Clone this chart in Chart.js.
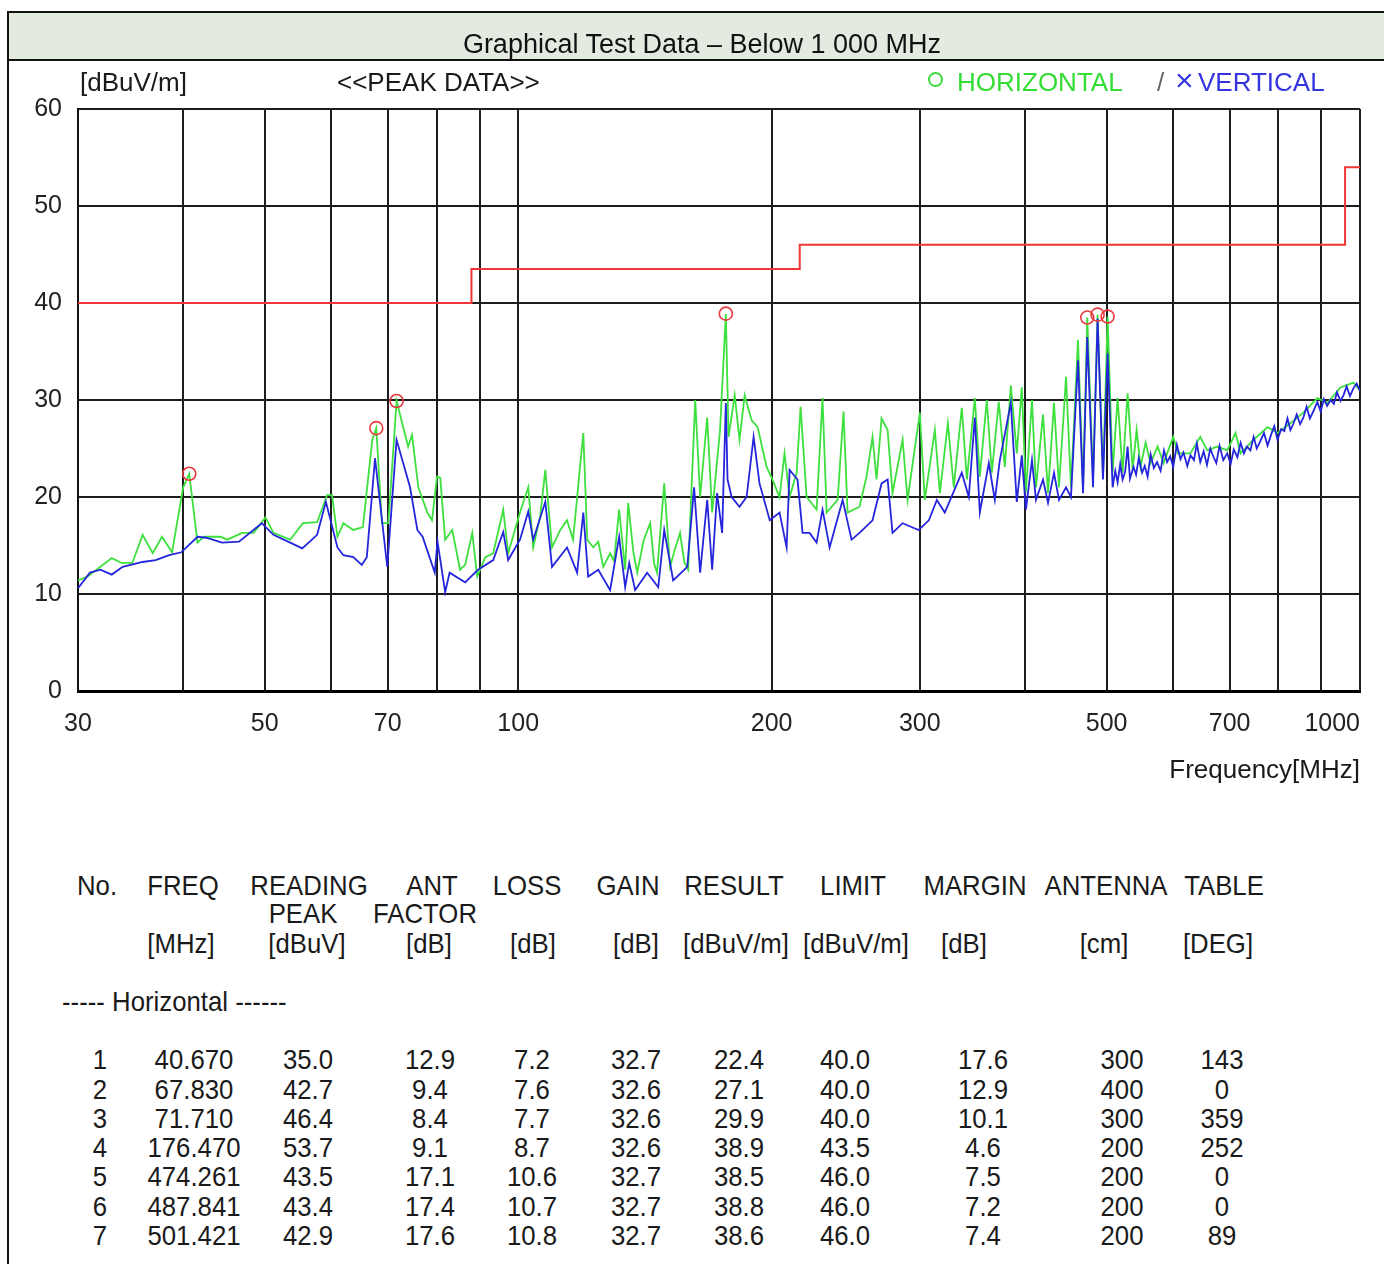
<!DOCTYPE html>
<html>
<head>
<meta charset="utf-8">
<script src="https://cdn.jsdelivr.net/npm/chart.js@4.4.1/dist/chart.umd.min.js"></script>
<style>
html,body{margin:0;padding:0;background:#fff;width:1384px;height:1264px;overflow:hidden;font-family:"Liberation Sans",Arial,sans-serif;color:#1a1a1a}
#frame{position:absolute;left:7px;top:11px;width:1420px;height:1300px;border-left:2px solid #111;border-top:2px solid #111;box-sizing:border-box}
#header{position:absolute;left:9px;top:13px;width:1400px;height:46px;background:#e3ebe1;border-bottom:2px solid #111}
.t{position:absolute;white-space:nowrap;line-height:1}
#c{position:absolute;left:0;top:0}
</style>
</head>
<body>
<div id="frame"></div>
<div id="header"></div>
<canvas id="c" width="1384" height="800"></canvas>
<script>
// ---------------- DATA ----------------
// Horizontal polarisation trace (green): frequency [MHz] and level [dBuV/m]
const hFreq = [
 30.0, 30.8, 32.9, 33.8, 34.8, 35.8, 36.8, 37.75, 38.8, 40.0,
 40.67, 41.6, 42.3, 44.3, 45.1, 47.0, 48.5, 50.1, 51.2, 53.6,
 55.5, 57.7, 59.3, 60.1, 61.0, 62.0, 63.7, 65.4, 67.1, 67.83,
 68.9, 70.1, 71.71, 74.0, 74.8, 76.1, 78.0, 79.0, 80.1, 80.8,
 81.9, 83.5, 85.3, 86.5, 88.2, 89.4, 91.4, 93.4, 96.0, 97.3,
 100.5, 102.8, 104.2, 106.2, 107.7, 109.7, 112.2, 114.3, 116.2, 119.5,
 120.8, 122.8, 124.5, 126.2, 128.6, 130.0, 131.8, 134.0, 135.1, 137.0,
 138.5, 141.0, 143.5, 145.0, 146.2, 149.1, 151.5, 153.5, 155.7, 157.5,
 159.2, 162.3, 164.5, 167.7, 170.0, 173.7, 176.47, 177.8, 180.8, 183.2,
 185.8, 189.4, 192.5, 197.3, 200.5, 204.4, 207.2, 210.1, 214.2, 216.5,
 220.1, 226.2, 229.9, 232.5, 239.6, 243.5, 246.2, 254.4, 259.3, 263.6,
 266.5, 270.2, 274.7, 278.4, 286.2, 290.1, 300.0, 304.1, 312.6, 316.9,
 323.9, 329.2, 336.5, 341.2, 348.7, 353.5, 360.3, 365.3, 372.3, 378.5,
 384.8, 391.1, 396.5, 401.0, 407.7, 412.2, 420.2, 426.0, 433.0, 439.0,
 447.5, 453.6, 462.4, 468.8, 474.261, 481.8, 487.841, 495.1, 501.421, 508.3,
 515.3, 522.4, 529.6, 536.9, 542.8, 548.7, 556.3, 564.0, 574.9, 584.3,
 600.0, 607.8, 628.6, 646.0, 658.4, 676.7, 695.5, 711.5, 721.4, 747.5,
 776.6, 798, 826.7, 856.6, 890.0, 914.9, 948, 982, 1000
];
const hLevel = [
 11.4, 11.8, 13.7, 13.2, 13.2, 16.1, 14.2, 15.9, 14.3, 21.0,
 22.4, 15.3, 15.9, 15.9, 15.6, 16.3, 16.3, 17.9, 16.3, 15.6,
 17.3, 17.4, 20.2, 20.2, 15.9, 17.3, 16.6, 16.9, 25.9, 27.1,
 17.3, 17.3, 29.9, 25.2, 26.4, 21.0, 18.4, 17.6, 22.1, 22.0,
 15.6, 16.6, 12.5, 13.0, 16.3, 11.8, 13.8, 14.2, 18.7, 14.2,
 18.4, 21.0, 14.8, 18.0, 22.8, 14.8, 16.6, 17.6, 15.6, 26.6,
 15.6, 14.8, 15.4, 12.8, 14.2, 13.4, 18.7, 12.5, 19.4, 14.4,
 12.2, 15.6, 17.3, 13.2, 12.2, 21.4, 12.8, 14.6, 16.3, 13.3,
 12.5, 30.0, 20.0, 28.2, 18.4, 26.9, 38.9, 26.2, 30.5, 25.9,
 30.5, 27.9, 27.2, 23.1, 21.8, 20.0, 24.5, 20.0, 22.5, 29.3,
 20.0, 18.7, 30.2, 18.4, 19.7, 28.8, 18.4, 19.0, 22.1, 26.2,
 21.8, 28.1, 26.9, 20.4, 25.9, 19.7, 28.7, 19.7, 26.9, 20.4,
 27.6, 21.0, 29.2, 21.8, 30.2, 22.1, 30.0, 22.5, 29.8, 23.1,
 31.5, 24.5, 31.3, 20.5, 30.0, 21.0, 28.5, 20.4, 29.7, 21.0,
 32.4, 21.0, 36.2, 21.0, 38.5, 21.8, 38.8, 22.1, 38.6, 22.5,
 30.2, 22.5, 30.7, 22.8, 26.9, 23.1, 25.6, 23.5, 25.2, 23.5,
 26.2, 24.5, 24.5, 26.2, 24.8, 25.2, 24.8, 26.6, 24.5, 25.9,
 27.2, 26.6, 27.6, 28.7, 30.2, 29.7, 31.3, 31.8, 31.0
];
// Vertical polarisation trace (blue)
const vFreq = [
 30.0, 31.0, 31.9, 32.9, 33.9, 35.8, 37.1, 38.5, 39.8, 41.6,
 42.6, 44.5, 46.6, 49.6, 51.2, 53.6, 55.4, 57.7, 59.1, 61.0,
 62.0, 63.7, 65.2, 66.1, 67.6, 69.9, 71.7, 74.4, 75.9, 77.0,
 79.6, 80.2, 81.9, 82.9, 86.5, 89.6, 93.4, 96.0, 97.3, 100.5,
 102.8, 104.2, 107.7, 109.7, 114.3, 117.5, 119.5, 121.1, 124.5, 128.6,
 131.8, 134.0, 135.5, 137.7, 142.3, 146.7, 149.1, 152.8, 158.8, 161.8,
 164.5, 167.7, 170.0, 172.3, 174.7, 176.47, 177.3, 179.3, 183.2, 186.8,
 190.4, 193.5, 199.0, 204.4, 208.4, 210.1, 214.7, 217.7, 221.9, 226.2,
 229.9, 234.4, 242.9, 248.9, 254.4, 263.6, 270.2, 274.7, 278.4, 286.2,
 299.0, 307.5, 314.3, 321.2, 336.5, 343.0, 348.7, 353.5, 362.3, 368.3,
 373.4, 384.8, 391.1, 396.5, 401.0, 407.7, 412.2, 420.2, 426.0, 433.0,
 439.0, 447.5, 453.6, 462.4, 468.8, 474.261, 481.8, 487.841, 495.1, 501.421,
 508.3, 512, 515.3, 519, 522.4, 526, 529.6, 533, 538.3, 542,
 546, 551, 555, 559.4, 564, 569, 574, 579.6, 585, 590,
 595, 600, 606, 612, 617, 623.5, 629, 635, 640, 646,
 652, 658, 664, 669.3, 675, 681, 688, 695.5, 702, 708,
 715, 721.4, 728, 734, 741, 747.5, 754, 761, 769, 776.6,
 784, 791, 798, 806, 813, 820, 826.7, 834, 841, 849,
 856.6, 864, 872, 881, 890, 898, 906, 914, 922.8, 931,
 939, 948, 956, 964, 973, 982, 991, 1000
];
const vLevel = [
 10.6, 12.2, 12.5, 12.0, 12.8, 13.3, 13.5, 14.0, 14.3, 15.9,
 15.8, 15.3, 15.4, 17.3, 16.1, 15.3, 14.7, 16.1, 19.5, 14.8,
 14.0, 13.8, 13.0, 13.8, 24.0, 12.8, 25.9, 21.0, 16.6, 15.9,
 12.2, 15.4, 10.2, 12.2, 11.2, 12.5, 13.5, 16.4, 13.5, 15.6,
 18.5, 15.6, 19.5, 12.8, 14.8, 12.2, 18.4, 11.8, 12.5, 10.4,
 15.9, 10.7, 13.2, 10.4, 12.2, 10.7, 16.6, 11.4, 12.8, 21.0,
 12.2, 19.7, 12.5, 20.4, 16.3, 29.7, 21.8, 20.0, 19.0, 20.0,
 26.2, 21.4, 17.6, 18.4, 14.8, 22.8, 21.8, 16.3, 16.3, 15.3,
 18.7, 14.8, 19.7, 15.6, 16.3, 17.6, 21.4, 21.8, 16.3, 17.3,
 16.6, 17.6, 19.7, 18.4, 22.5, 20.0, 28.2, 18.4, 23.5, 19.7,
 23.8, 29.7, 19.5, 24.3, 18.7, 23.8, 19.7, 21.8, 19.4, 22.5,
 19.7, 21.0, 20.0, 34.1, 20.4, 36.5, 21.0, 38.4, 21.8, 34.8,
 21.0, 22.7, 21.5, 23.4, 21.8, 22.6, 25.2, 21.9, 23.1, 22.3,
 24.0, 22.5, 23.2, 22.1, 24.4, 23.0, 23.6, 22.7, 24.8, 23.6,
 24.2, 23.1, 25.4, 23.9, 24.6, 23.2, 24.3, 23.8, 25.5, 23.6,
 24.7, 23.3, 25.0, 24.2, 23.5, 25.3, 23.8, 24.5, 23.4, 24.9,
 24.1, 25.6, 24.5, 25.2, 24.8, 26.2, 25.0, 25.7, 26.6, 25.3,
 26.4, 27.3, 25.9, 27.0, 26.8, 28.1, 26.9, 27.6, 28.5, 27.5,
 28.2, 29.3, 28.1, 28.9, 29.8, 28.8, 30.1, 29.4, 30.0, 29.6,
 30.8, 29.9, 30.5, 31.4, 30.4, 31.2, 31.7, 30.9
];
// Limit line (step)
const limitFreq = [30, 88, 88, 216, 216, 960, 960, 1000];
const limitLevel = [40, 40, 43.5, 43.5, 46, 46, 54, 54];
// Axis ticks
const gridFreqs = [30, 40, 50, 60, 70, 80, 90, 100, 200, 300, 400, 500, 600, 700, 800, 900, 1000];
const labelFreqs = [30, 50, 70, 100, 200, 300, 500, 700, 1000];
const yTicks = [0, 10, 20, 30, 40, 50, 60];
// Measured peaks (table)
const pkNo = [1, 2, 3, 4, 5, 6, 7];
const pkFreq = ["40.670", "67.830", "71.710", "176.470", "474.261", "487.841", "501.421"];
const pkReading = [35.0, 42.7, 46.4, 53.7, 43.5, 43.4, 42.9];
const pkAnt = [12.9, 9.4, 8.4, 9.1, 17.1, 17.4, 17.6];
const pkLoss = [7.2, 7.6, 7.7, 8.7, 10.6, 10.7, 10.8];
const pkGain = [32.7, 32.6, 32.6, 32.6, 32.7, 32.7, 32.7];
const pkResult = [22.4, 27.1, 29.9, 38.9, 38.5, 38.8, 38.6];
const pkLimit = [40.0, 40.0, 40.0, 43.5, 46.0, 46.0, 46.0];
const pkMargin = [17.6, 12.9, 10.1, 4.6, 7.5, 7.2, 7.4];
const pkAntenna = [300, 400, 300, 200, 200, 200, 200];
const pkTable = [143, 0, 359, 252, 0, 0, 89];

// ---------------- TEXT ----------------
const FONT = "'Liberation Sans', Arial, sans-serif";
function txt(s, x, y, o) {
  o = o || {};
  const d = document.createElement('div');
  d.className = 't';
  d.textContent = s;
  const fs = o.fs || 26;
  d.style.fontSize = fs + 'px';
  d.style.top = (y - 0.49 * fs) + 'px';
  if (o.color) d.style.color = o.color;
  const al = o.align || 'left';
  if (al === 'center') { d.style.left = (x - 300) + 'px'; d.style.width = '600px'; d.style.textAlign = 'center'; }
  else if (al === 'right') { d.style.left = (x - 600) + 'px'; d.style.width = '600px'; d.style.textAlign = 'right'; }
  else d.style.left = x + 'px';
  if (o.sx) {
    d.style.transform = 'scaleX(' + o.sx + ')';
    d.style.transformOrigin = al === 'left' ? 'left center' : (al === 'right' ? 'right center' : 'center center');
  }
  d.style.zIndex = 5;
  document.body.appendChild(d);
  return d;
}
txt('Graphical Test Data \u2013 Below 1 000 MHz', 702, 44, {align: 'center', fs: 27, color: '#111'});
txt('[dBuV/m]', 80, 82, {fs: 26});
txt('<<PEAK DATA>>', 337, 82, {fs: 26});
const circ = document.createElement('div');
circ.style.cssText = 'position:absolute;left:928px;top:72px;width:11px;height:11px;border:2px solid #3ddc3d;border-radius:50%;z-index:5';
document.body.appendChild(circ);
txt('HORIZONTAL', 957, 82, {fs: 26, color: '#33dd33'});
txt('/', 1157, 82, {fs: 26, color: '#666'});
txt('\u00d7', 1175, 80, {fs: 32, color: '#3535e0'});
txt('VERTICAL', 1198, 82, {fs: 26, color: '#3535e0'});
txt('Frequency[MHz]', 1360, 769, {align: 'right', fs: 26});

// Table
const TS = {fs: 28, sx: 0.92, align: 'center'};
const headRow1 = [['No.', 97], ['FREQ', 183], ['READING', 309], ['ANT', 432], ['LOSS', 527], ['GAIN', 628], ['RESULT', 734], ['LIMIT', 853], ['MARGIN', 975], ['ANTENNA', 1106], ['TABLE', 1224]];
const headRow2 = [['PEAK', 303], ['FACTOR', 425]];
const headRow3 = [['[MHz]', 181], ['[dBuV]', 307], ['[dB]', 429], ['[dB]', 533], ['[dB]', 636], ['[dBuV/m]', 736], ['[dBuV/m]', 856], ['[dB]', 964], ['[cm]', 1104], ['[DEG]', 1218]];
headRow1.forEach(h => txt(h[0], h[1], 886, TS));
headRow2.forEach(h => txt(h[0], h[1], 914, TS));
headRow3.forEach(h => txt(h[0], h[1], 944, TS));
txt('----- Horizontal ------', 62, 1002, {fs: 28, sx: 0.92});
const colX = [100, 194, 308, 430, 532, 636, 739, 845, 983, 1122, 1222];
const rowY0 = 1060, rowDY = 29.3;
pkNo.forEach((n, i) => {
  const cells = [String(n), pkFreq[i], pkReading[i].toFixed(1), pkAnt[i].toFixed(1), pkLoss[i].toFixed(1),
    pkGain[i].toFixed(1), pkResult[i].toFixed(1), pkLimit[i].toFixed(1), pkMargin[i].toFixed(1),
    String(pkAntenna[i]), String(pkTable[i])];
  cells.forEach((c, j) => txt(c, colX[j], rowY0 + i * rowDY, TS));
});

// ---------------- CHART ----------------
const toXY = (fs, vs) => fs.map((f, i) => ({x: f, y: vs[i]}));
const pkFreqNum = pkFreq.map(Number);
new Chart(document.getElementById('c'), {
  type: 'line',
  data: {
    datasets: [
      {label: 'peaks', data: toXY(pkFreqNum, pkResult), showLine: false, order: 0,
       pointRadius: 6.5, pointBorderWidth: 1.6, pointBorderColor: '#e8393d', pointBackgroundColor: 'rgba(0,0,0,0)'},
      {label: 'VERTICAL', data: toXY(vFreq, vLevel), order: 1, borderColor: '#2525dc', borderWidth: 1.8, pointRadius: 0},
      {label: 'HORIZONTAL', data: toXY(hFreq, hLevel), order: 2, borderColor: '#3de03d', borderWidth: 1.8, pointRadius: 0},
      {label: 'LIMIT', data: toXY(limitFreq, limitLevel), order: 3, borderColor: '#ef3535', borderWidth: 2, pointRadius: 0}
    ]
  },
  options: {
    responsive: false, animation: false, devicePixelRatio: 1,
    layout: {padding: {left: 0, right: 24, top: 109, bottom: 0}},
    plugins: {legend: {display: false}, tooltip: {enabled: false}},
    elements: {line: {tension: 0}},
    scales: {
      x: {
        type: 'logarithmic', min: 30, max: 1000,
        afterBuildTicks: s => { s.ticks = gridFreqs.map(v => ({value: v})); },
        afterFit: s => { s.height = 109; s.paddingLeft = 0; s.paddingRight = 0; },
        ticks: {
          autoSkip: false, maxRotation: 0, minRotation: 0, padding: 18, color: '#222',
          font: {family: FONT, size: 25},
          callback: v => labelFreqs.includes(v) ? (v === 1000 ? '1000' + '\u00a0'.repeat(8) : String(v)) : ''
        },
        grid: {color: '#1e1e1e', lineWidth: 2, drawTicks: false},
        border: {color: '#000', width: 3}
      },
      y: {
        min: 0, max: 60,
        afterBuildTicks: s => { s.ticks = yTicks.map(v => ({value: v})); },
        afterFit: s => { s.width = 78; s.paddingTop = 0; s.paddingBottom = 0; },
        ticks: {padding: 16, color: '#222', font: {family: FONT, size: 25}},
        grid: {color: '#1e1e1e', lineWidth: 2, drawTicks: false},
        border: {color: '#111', width: 2}
      }
    }
  }
});
</script>
</body>
</html>
